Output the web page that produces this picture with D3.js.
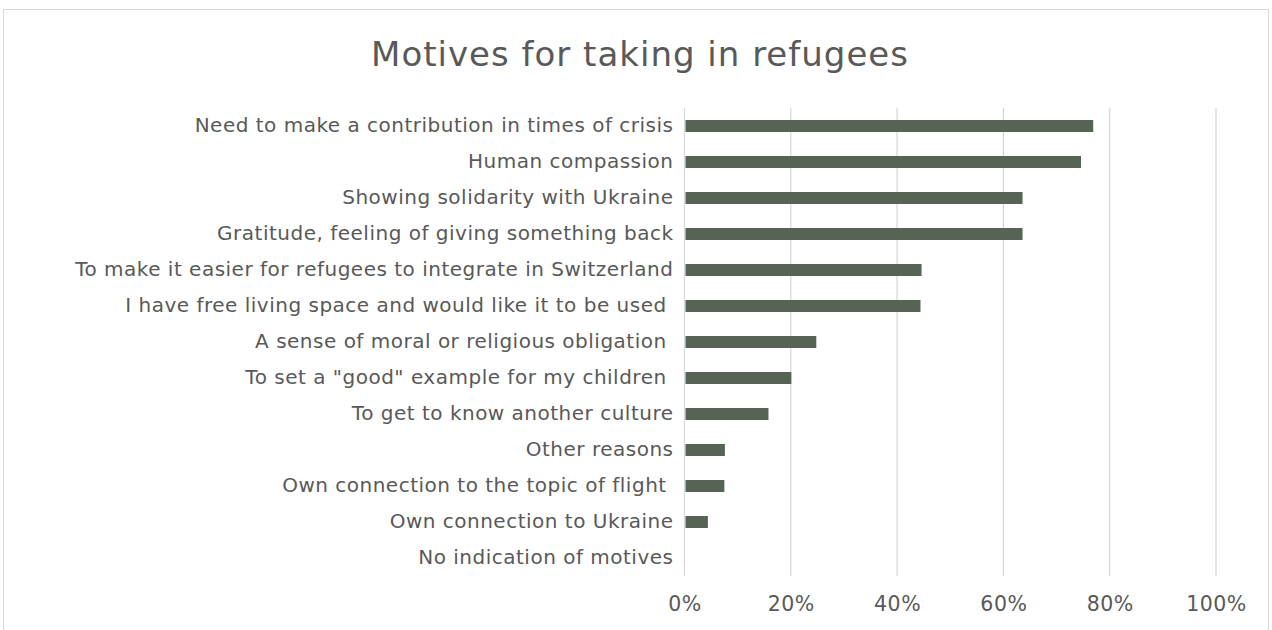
<!DOCTYPE html>
<html>
<head>
<meta charset="utf-8">
<script src="https://cdn.jsdelivr.net/npm/d3@7"></script>
<style>
  body { margin: 0; background: #fff; }
  text { font-family: "DejaVu Sans", Verdana, sans-serif; fill: #595959; }
</style>
</head>
<body>
<div id="chart"></div>
<script>
const motives = [
    "Need to make a contribution in times of crisis",
    "Human compassion",
    "Showing solidarity with Ukraine",
    "Gratitude, feeling of giving something back",
    "To make it easier for refugees to integrate in Switzerland",
    "I have free living space and would like it to be used ",
    "A sense of moral or religious obligation ",
    "To set a \"good\" example for my children ",
    "To get to know another culture",
    "Other reasons",
    "Own connection to the topic of flight ",
    "Own connection to Ukraine",
    "No indication of motives"
];
const shares = [0.769, 0.746, 0.636, 0.636, 0.446, 0.444, 0.248, 0.201, 0.158, 0.076, 0.075, 0.044, 0];
const ticks = [0, 0.2, 0.4, 0.6, 0.8, 1];
const title = "Motives for taking in refugees";

const W = 1272, H = 630;
const margin = {top: 108, right: 56, bottom: 54, left: 684.5};

const svg = d3.select("#chart").append("svg")
    .attr("width", W)
    .attr("height", H);

// chart frame
svg.append("rect")
    .attr("x", 3.5).attr("y", 9.5)
    .attr("width", 1265).attr("height", 640)
    .attr("fill", "#fff")
    .attr("stroke", "#d9d9d9");

const x = d3.scaleLinear()
    .domain([0, 1])
    .range([margin.left, W - margin.right]);

const y = d3.scaleBand()
    .domain(motives)
    .range([margin.top, H - margin.bottom]);

// gridlines
svg.append("g")
    .selectAll("line")
    .data(ticks)
    .enter().append("line")
    .attr("x1", d => x(d)).attr("x2", d => x(d))
    .attr("y1", margin.top).attr("y2", H - margin.bottom)
    .attr("stroke", "#d9d9d9")
    .attr("stroke-width", 1.3);

// bars
const barH = y.bandwidth() / 3;
svg.append("g")
    .selectAll("rect")
    .data(motives)
    .enter().append("rect")
    .attr("x", x(0) + 1)
    .attr("y", d => y(d) + (y.bandwidth() - barH) / 2)
    .attr("width", (d, i) => Math.max(0, x(shares[i]) - x(0) - 1))
    .attr("height", barH)
    .attr("fill", "#566455");

// category labels
const yAxis = d3.axisLeft(y).tickSize(0).tickPadding(11);
const gy = svg.append("g")
    .attr("transform", "translate(" + x(0) + ",0)")
    .call(yAxis);
gy.select(".domain").remove();
gy.selectAll("text")
    .style("font-size", "20px")
    .style("letter-spacing", "0.5px")
    .style("white-space", "pre")
    .attr("fill", "#595959");

// value axis labels
const xAxis = d3.axisBottom(x)
    .tickValues(ticks)
    .tickSize(0)
    .tickPadding(20)
    .tickFormat(d3.format(".0%"));
const gx = svg.append("g")
    .attr("transform", "translate(0," + (H - margin.bottom) + ")")
    .call(xAxis);
gx.select(".domain").remove();
gx.selectAll("text")
    .style("font-size", "20.5px")
    .style("letter-spacing", "0.5px")
    .attr("fill", "#595959");

svg.append("text")
    .attr("x", 640)
    .attr("y", 66)
    .attr("text-anchor", "middle")
    .style("font-size", "34px")
    .style("letter-spacing", "1px")
    .text(title);
</script>
</body>
</html>
